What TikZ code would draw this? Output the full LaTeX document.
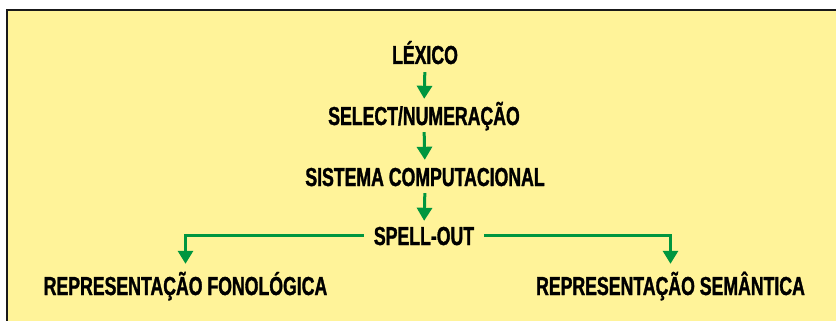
\documentclass[tikz,border=0pt]{standalone}
\usepackage{fontspec}
\setmainfont{Liberation Sans}[FakeStretch=0.68]
\newfontfamily\lblfont{Liberation Sans Bold}[FakeStretch=0.68,FakeBold=1.2]
\usetikzlibrary{arrows.meta,calc}
\definecolor{bgyellow}{HTML}{FFF399}
\definecolor{arrgreen}{HTML}{00963F}
\tikzset{
  lbl/.style={anchor=base,inner sep=0pt,text height=17pt,text depth=0pt,
    font=\fontsize{26pt}{28pt}\lblfont},
  arr/.style={draw=arrgreen,line width=3pt,
    -{Triangle[width=15pt,length=13pt]}},
}
\begin{document}
\begin{tikzpicture}[x=1pt,y=-1pt]
\useasboundingbox (0,0) rectangle (836,321);
\fill[bgyellow] (7,10) rectangle (840,325);
\draw[line width=2pt,black!90] (7,325) -- (7,10) -- (840,10);
\node[lbl] (lex) at (425,64) {LÉXICO};
\node[lbl] (sel) at (424,125) {SELECT/NUMERAÇÃO};
\node[lbl] (sis) at (425,186) {SISTEMA COMPUTACIONAL};
\node[lbl] (spell) at (424,245) {SPELL-OUT};
\node[lbl] (fono) at (185.5,295) {REPRESENTAÇÃO FONOLÓGICA};
\node[lbl] (sem) at (670.5,295) {REPRESENTAÇÃO SEMÂNTICA};
\draw[arr,shorten <=8pt,shorten >=9pt] (lex.south) -- (sel.north);
\draw[arr,shorten <=7pt,shorten >=9pt] (sel.south) -- (sis.north);
\draw[arr,shorten <=7pt,shorten >=7pt] (sis.south) -- (spell.north);
\draw[arr,shorten <=10pt,shorten >=14pt] ([yshift=1.5pt]spell.west) -| (fono.north);
\draw[arr,shorten <=10pt,shorten >=14pt] ([yshift=1.5pt]spell.east) -| (sem.north);
\end{tikzpicture}
\end{document}
